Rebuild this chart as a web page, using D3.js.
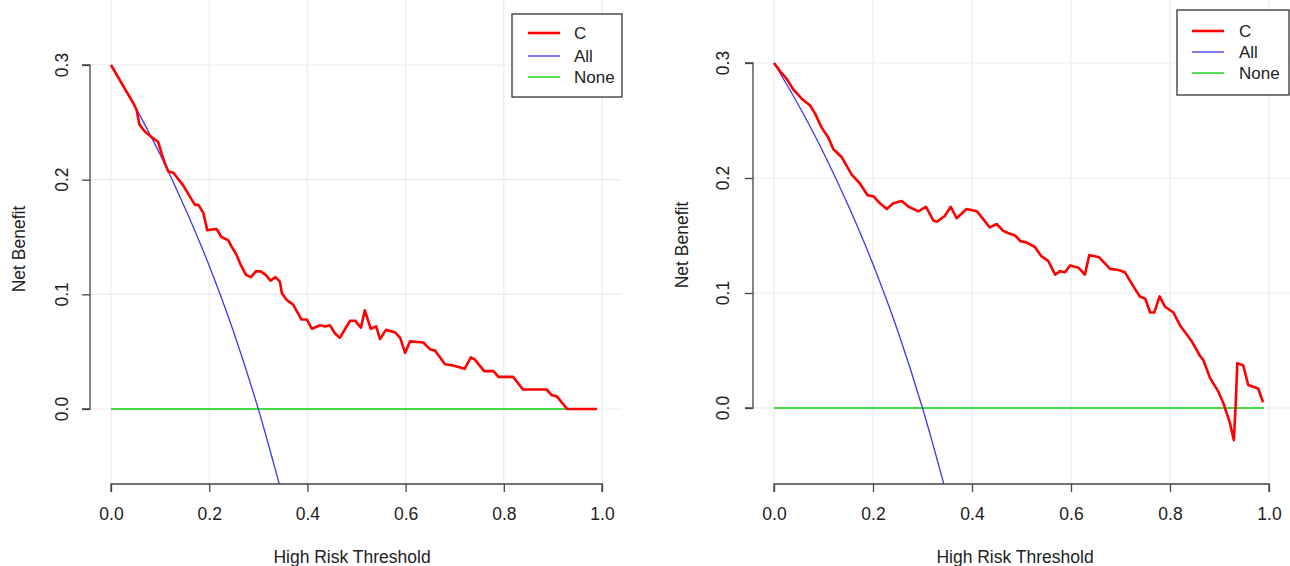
<!DOCTYPE html>
<html><head><meta charset="utf-8">
<script src="https://cdn.jsdelivr.net/npm/d3@7"></script>
<style>
html,body{margin:0;padding:0;background:#fff;}
svg{display:block;font-family:"Liberation Sans",Arial,sans-serif;}
</style></head>
<body>
<svg id="chart" width="1290" height="566"></svg>
<script>
// ---- data ----
const xTicks = [0, 0.2, 0.4, 0.6, 0.8, 1.0];
const xTickLabels = ["0.0", "0.2", "0.4", "0.6", "0.8", "1.0"];
const yTicks = [0, 0.1, 0.2, 0.3];
const yTickLabels = ["0.0", "0.1", "0.2", "0.3"];
const legendLabels = ["C", "All", "None"];
const seriesColors = ["#ff0000", "#3a3af0", "#44dd44"];

// left panel, model C
const leftThr = [0,0.045,0.052,0.058,0.069,0.083,0.096,0.103,0.110,0.117,0.127,0.147,0.161,0.171,0.178,0.188,0.196,0.215,0.225,0.239,
  0.245,0.255,0.265,0.275,0.285,0.295,0.305,0.315,0.325,0.335,0.344,0.348,0.358,0.371,0.388,0.399,0.409,0.426,0.436,0.446,0.456,0.466,
  0.477,0.487,0.497,0.509,0.517,0.529,0.540,0.548,0.560,0.578,0.589,0.599,0.609,0.636,0.650,0.660,0.680,0.697,0.720,0.733,0.741,0.760,
  0.779,0.789,0.819,0.839,0.887,0.898,0.908,0.929,0.99];
const leftNB = [0.300,0.267,0.261,0.248,0.242,0.237,0.233,0.223,0.214,0.207,0.206,0.195,0.185,0.178,0.178,0.171,0.156,0.157,0.150,0.147,
  0.142,0.135,0.125,0.117,0.115,0.120,0.120,0.117,0.112,0.115,0.111,0.101,0.095,0.091,0.078,0.078,0.070,0.073,0.072,0.073,0.066,0.062,
  0.070,0.077,0.077,0.071,0.086,0.070,0.072,0.061,0.069,0.067,0.062,0.049,0.059,0.058,0.052,0.051,0.039,0.038,0.035,0.045,0.043,0.033,
  0.033,0.028,0.028,0.017,0.017,0.012,0.011,0.000,0.000];

// right panel, model C
const rightThr = [0,0.012,0.026,0.039,0.056,0.073,0.083,0.096,0.110,0.120,0.137,0.157,0.174,0.189,0.201,0.214,0.228,0.241,0.258,0.272,
  0.292,0.307,0.322,0.329,0.345,0.357,0.369,0.389,0.410,0.423,0.436,0.450,0.463,0.474,0.487,0.498,0.510,0.527,0.540,0.554,0.568,0.578,
  0.588,0.598,0.615,0.628,0.637,0.657,0.679,0.696,0.709,0.723,0.739,0.750,0.760,0.768,0.779,0.790,0.807,0.820,0.844,0.861,0.867,0.881,
  0.898,0.908,0.921,0.929,0.933,0.936,0.948,0.958,0.978,0.988];
const rightNB = [0.300,0.293,0.286,0.277,0.269,0.263,0.256,0.244,0.235,0.225,0.218,0.203,0.195,0.185,0.184,0.178,0.173,0.178,0.180,0.175,
  0.171,0.175,0.163,0.162,0.167,0.175,0.165,0.173,0.171,0.164,0.157,0.160,0.154,0.152,0.150,0.145,0.144,0.140,0.132,0.128,0.116,0.119,
  0.118,0.124,0.122,0.116,0.133,0.131,0.121,0.120,0.118,0.108,0.097,0.095,0.083,0.083,0.097,0.088,0.083,0.072,0.058,0.045,0.042,0.026,
  0.014,0.004,-0.013,-0.028,0.006,0.039,0.037,0.020,0.017,0.005];

// "All" strategy (treat everyone)
const allThr = [0, 0.05, 0.10, 0.15, 0.20, 0.25, 0.30, 0.35];
const allNB  = [0.300, 0.263, 0.222, 0.176, 0.125, 0.067, 0.000, -0.077];

// "None" strategy
const noneThr = [0, 0.99];
const noneNB  = [0, 0];

// ---- layout ----
const FS = 17.5;
const svg = d3.select("#chart");
const panels = [
  {thr: leftThr, nb: leftNB, xR: [111, 602], yR: [409, 65], yAxisX: 90,
   plotL: 90, plotR: 622, plotB: 484, legend: {x: 512, y: 14, w: 110, h: 83, rows: [33, 56, 77], lx: 528, tx: 574},
   yLabX: 62, yTitleX: 19, yTitleY: 249, xTitleX: 352},
  {thr: rightThr, nb: rightNB, xR: [774, 1269], yR: [408, 63], yAxisX: 753,
   plotL: 753, plotR: 1290, plotB: 484, legend: {x: 1177, y: 10, w: 112, h: 85, rows: [31, 52, 73], lx: 1192, tx: 1239},
   yLabX: 723, yTitleX: 682, yTitleY: 245, xTitleX: 1015}
];

panels.forEach((p, i) => {
  const g = svg.append("g");
  const x = d3.scaleLinear().domain([0, 1]).range(p.xR);
  const y = d3.scaleLinear().domain([0, 0.3]).range(p.yR);

  // grid
  g.append("g").selectAll("line").data(xTicks).join("line")
    .attr("x1", d => x(d)).attr("x2", d => x(d)).attr("y1", 0).attr("y2", p.plotB)
    .attr("stroke", "#ebebeb").attr("stroke-width", 1.2);
  g.append("g").selectAll("line").data(yTicks).join("line")
    .attr("x1", p.plotL).attr("x2", p.plotR).attr("y1", d => y(d)).attr("y2", d => y(d))
    .attr("stroke", "#ebebeb").attr("stroke-width", 1.2);

  const clipId = "clip" + i;
  svg.append("defs").append("clipPath").attr("id", clipId)
    .append("rect").attr("x", p.plotL).attr("y", 0).attr("width", p.plotR - p.plotL).attr("height", p.plotB);

  const lines = g.append("g").attr("clip-path", `url(#${clipId})`);
  lines.append("path").datum(noneThr.map((t, k) => [t, noneNB[k]]))
    .attr("d", d3.line().x(d => x(d[0])).y(d => y(d[1])))
    .attr("fill", "none").attr("stroke", seriesColors[2]).attr("stroke-width", 1.8);
  lines.append("path").datum(allThr.map((t, k) => [t, allNB[k]]))
    .attr("d", d3.line().x(d => x(d[0])).y(d => y(d[1])).curve(d3.curveMonotoneX))
    .attr("fill", "none").attr("stroke", seriesColors[1]).attr("stroke-width", 1.3);
  lines.append("path").datum(p.thr.map((t, k) => [t, p.nb[k]]))
    .attr("d", d3.line().x(d => x(d[0])).y(d => y(d[1]))).attr("fill", "none")
    .attr("stroke", seriesColors[0]).attr("stroke-width", 2.6).attr("stroke-linejoin", "round");

  // x axis
  const xAxis = d3.axisBottom(x).tickValues(xTicks).tickFormat((d, k) => xTickLabels[k]).tickSize(8).tickPadding(16);
  const xg = g.append("g").attr("transform", `translate(0,${p.plotB})`).call(xAxis);
  xg.select(".domain").attr("d", `M${x(0)},8V0H${x(1)}V8`).attr("stroke", "#444").attr("stroke-width", 1.3);
  xg.selectAll(".tick line").attr("stroke", "#444").attr("stroke-width", 1.3);
  xg.selectAll(".tick text").attr("font-size", FS).attr("fill", "#222").attr("font-family", "Liberation Sans, Arial, sans-serif");

  // y axis
  const yAxis = d3.axisLeft(y).tickValues(yTicks).tickFormat((d, k) => yTickLabels[k]).tickSize(8);
  const yg = g.append("g").attr("transform", `translate(${p.yAxisX},0)`).call(yAxis);
  yg.select(".domain").attr("d", `M-8,${y(0.3)}H0V${y(0)}H-8`).attr("stroke", "#444").attr("stroke-width", 1.3);
  yg.selectAll(".tick line").attr("stroke", "#444").attr("stroke-width", 1.3);
  yg.selectAll(".tick text").remove();
  g.append("g").selectAll("text").data(yTicks).join("text")
    .attr("transform", d => `translate(${p.yLabX + 6},${y(d)}) rotate(-90)`)
    .attr("text-anchor", "middle").attr("font-size", FS).attr("fill", "#222")
    .text((d, k) => yTickLabels[k]);

  // titles
  g.append("text").attr("x", p.xTitleX).attr("y", 563).attr("text-anchor", "middle")
    .attr("font-size", FS).attr("fill", "#222").text("High Risk Threshold");
  g.append("text").attr("transform", `translate(${p.yTitleX + 6},${p.yTitleY}) rotate(-90)`)
    .attr("text-anchor", "middle").attr("font-size", FS).attr("fill", "#222").text("Net Benefit");

  // legend
  const L = p.legend;
  const lg = g.append("g");
  lg.append("rect").attr("x", L.x).attr("y", L.y).attr("width", L.w).attr("height", L.h)
    .attr("fill", "#fff").attr("stroke", "#333").attr("stroke-width", 1.3);
  legendLabels.forEach((lab, k) => {
    lg.append("line").attr("x1", L.lx).attr("x2", L.lx + 32).attr("y1", L.rows[k]).attr("y2", L.rows[k])
      .attr("stroke", seriesColors[k]).attr("stroke-width", k === 0 ? 2.6 : (k === 1 ? 1.3 : 1.8));
    lg.append("text").attr("x", L.tx).attr("y", L.rows[k] + 6).attr("font-size", 17).attr("fill", "#222").text(lab);
  });
});
</script>
</body></html>
